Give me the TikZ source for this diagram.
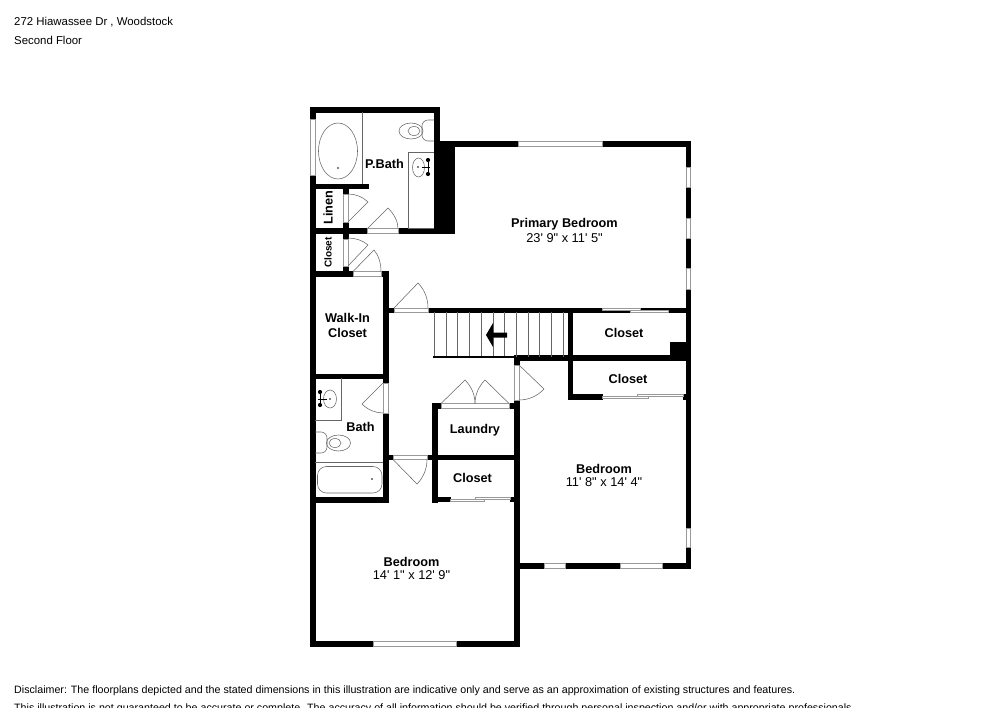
\documentclass[tikz,border=0pt]{standalone}
\usepackage{fontspec}
\usetikzlibrary{calc}
\setmainfont{Liberation Sans}
\newfontfamily\sizefont{Liberation Sans}
\tikzset{
  wall/.style={fill=black,draw=black,line width=0.15pt},
  glass/.style={draw=black!40,line width=0.6pt,fill=white},
  fixture/.style={draw=black!60,line width=0.55pt},
  roomlabel/.style={font=\bfseries\fontsize{12.7}{14.5}\selectfont,inner sep=0pt},
  sizelabel/.style={font=\sizefont\fontsize{12.8}{15}\selectfont,inner sep=0pt},
  pagetext/.style={font=\fontsize{11.4}{13}\selectfont,anchor=west,inner sep=0pt},
  disctext/.style={font=\fontsize{10.68}{13}\selectfont,anchor=west,inner sep=0pt}
}
\newcommand{\doorleaf}[4]{\draw[fixture] (#1) -- (#2) .. controls ($(#2)!0.64!(#3)$) and ($(#4)!0.64!(#3)$) .. (#4);}
\begin{document}
\begin{tikzpicture}[x=1pt,y=-1pt]
\useasboundingbox (0,0) rectangle (1000,707);
\pgfmathsetmacro{\stairtop}{312}
\pgfmathsetmacro{\stairbot}{357}
\node[pagetext] (addr) at (14,22.5) {272 Hiawassee Dr , Woodstock};
\node[pagetext] (floor) at (14,40) {Second Floor};
\node[disctext] (disc) at (14,691) {Disclaimer: The floorplans depicted and the stated dimensions in this illustration are indicative only and serve as an approximation of existing structures and features.};
\node[disctext] (discb) at (14,708.5) {This illustration is not guaranteed to be accurate or complete. The accuracy of all information should be verified through personal inspection and/or with appropriate professionals.};
\fill[wall] (310,107) rectangle (315,646);
\fill[wall] (310,107) rectangle (439,112);
\fill[wall] (434,107) rectangle (439,146);
\fill[wall] (434,141) rectangle (690,146);
\fill[wall] (434,141) rectangle (454,233);
\fill[wall] (686,141) rectangle (690,568);
\fill[wall] (310,228.5) rectangle (454,233);
\fill[wall] (310,184) rectangle (368,188);
\fill[wall] (343,188) rectangle (348,194);
\fill[wall] (343,222) rectangle (348,239);
\fill[wall] (343,266) rectangle (348,272);
\fill[wall] (310,271.5) rectangle (388,276);
\fill[wall] (383,271.5) rectangle (388,383);
\fill[wall] (310,374) rectangle (388,378.5);
\fill[wall] (383,413) rectangle (388,502);
\fill[wall] (310,497) rectangle (388,502);
\fill[wall] (388,308) rectangle (394,312.5);
\fill[wall] (428,308) rectangle (690,312.5);
\fill[wall] (568,312) rectangle (572.5,399);
\fill[wall] (515,355.5) rectangle (690,360);
\fill[wall] (670,342) rectangle (686,356);
\fill[wall] (568,394) rectangle (602,399);
\fill[wall] (683,394) rectangle (686,399);
\fill[wall] (514.5,355.5) rectangle (519,365);
\fill[wall] (514.5,400) rectangle (519,646);
\fill[wall] (432,403) rectangle (441,408);
\fill[wall] (509,403) rectangle (515,408);
\fill[wall] (432,403) rectangle (437,502);
\fill[wall] (388,455) rectangle (393,459.5);
\fill[wall] (427,455) rectangle (519,459.5);
\fill[wall] (432,497) rectangle (450,501.5);
\fill[wall] (510,497) rectangle (515,501.5);
\fill[wall] (310,641) rectangle (519,646);
\fill[wall] (515,563) rectangle (690,568);
\draw[glass] (310.5,119) rectangle (315,175);
\draw[glass] (518,141.5) rectangle (602,146);
\draw[glass] (686,167) rectangle (690,187);
\draw[glass] (686,218) rectangle (690,238);
\draw[glass] (686,268) rectangle (690,289);
\draw[glass] (686,528) rectangle (690,547);
\draw[glass] (544,563.5) rectangle (565,568);
\draw[glass] (620,563.5) rectangle (662,568);
\draw[glass] (373,641.5) rectangle (456,646);
\draw[glass] (367.5,228.5) rectangle (398,233);
\draw[glass] (353,271.5) rectangle (381,276);
\draw[glass] (394,308) rectangle (428,312.5);
\draw[glass] (343,194) rectangle (348,222);
\draw[glass] (343,239) rectangle (348,266);
\draw[glass] (383,383) rectangle (388,413);
\draw[glass] (393,455) rectangle (427,459.5);
\draw[glass] (514.5,365) rectangle (519,400);
\draw[glass] (441,403.5) rectangle (509,408);
\draw[glass] (602,308) rectangle (640,310);
\draw[glass] (630,310) rectangle (668,312.5);
\draw[glass] (637,394) rectangle (683,396);
\draw[glass] (602,396) rectangle (648,398.5);
\draw[glass] (475,497) rectangle (510,499);
\draw[glass] (450,499) rectangle (484,501.5);
\doorleaf{348,222}{368,202}{360,194}{348,194}
\doorleaf{348,266}{368,245}{360,238}{348,238}
\doorleaf{367.5,228.5}{388,208}{398,218}{398,228.5}
\doorleaf{353,271.5}{374,250}{381,258}{381,271.5}
\doorleaf{394,308}{418,283}{428,293}{428,308}
\doorleaf{383,383}{362,404}{371,413}{383,413}
\doorleaf{393,459.5}{417,484}{427,474}{427,459.5}
\doorleaf{519,365}{544,389}{534,400}{519,400}
\doorleaf{441,403.5}{465,380}{475,390}{475,403.5}
\doorleaf{509,403.5}{485,380}{475,390}{475,403.5}
\foreach \tread in {0,...,11}
  \draw[fixture] ({434.3+11.7*\tread},\stairtop) -- ({434.3+11.7*\tread},\stairbot);
\draw[black,line width=1.2pt] (433,\stairbot) -- (515,\stairbot);
\fill[black] (486,335) -- (493,323) -- (493,332.5) -- (507,332.5) -- (507,337.5) -- (493,337.5) -- (493,347) -- cycle;
\draw[fixture] (362,112) -- (362,184);
\draw[fixture] (338,151) ellipse (19.5 and 28);
\fill[black] (338,168) circle (0.9);
\draw[fixture,rounded corners=6pt] (434,120) -- (422,120) -- (422,141) -- (434,141);
\draw[fixture] (411,131) ellipse (12 and 8);
\draw[fixture] (414,131) ellipse (6 and 4.5);
\draw[fixture] (434,228) -- (408,228) -- (408,152) -- (434,152);
\draw[fixture] (418.5,167.5) ellipse (6 and 9.5);
\fill[black] (418,167) circle (0.9);
\draw[black,line width=1pt] (422,167) -- (430,167);
\draw[black,line width=1pt] (428,160) -- (428,174);
\fill[black] (428,160) circle (2.1);
\fill[black] (428,174) circle (2.1);
\draw[fixture] (315,420) -- (341,420) -- (341,378);
\draw[fixture] (330,399) ellipse (6.5 and 9);
\fill[black] (330,399) circle (0.9);
\draw[black,line width=1pt] (318,399) -- (327,399);
\draw[black,line width=1pt] (320,392) -- (320,405);
\fill[black] (320,392) circle (2.1);
\fill[black] (320,405) circle (2.1);
\draw[fixture,rounded corners=6pt] (315,432) -- (327,432) -- (327,453) -- (315,453);
\draw[fixture] (338.5,443) ellipse (12 and 8);
\draw[fixture] (335,443) ellipse (6 and 4.5);
\draw[fixture] (315,462) -- (383,462);
\draw[fixture,rounded corners=9pt] (317.5,466.5) rectangle (382,493);
\fill[black] (372,479) circle (0.9);
\node[roomlabel] (pbath) at (384.5,163.5) {P.Bath};
\node[roomlabel,rotate=90] (linen) at (328,207.5) {Linen};
\node[roomlabel,rotate=90,font=\bfseries\fontsize{10}{12}\selectfont] (closeta) at (328,252.5) {Closet};
\node[roomlabel,align=center] (walkin) at (347.5,325.5) {Walk-In\\Closet};
\node[roomlabel] (primary) at (564.5,224.5) {Primary Bedroom};
\node[sizelabel] (primarysize) at (564.5,238.5) {23' 9" x 11' 5"};
\node[roomlabel] (closetb) at (624,332.5) {Closet};
\node[roomlabel] (closetc) at (628,378.5) {Closet};
\node[roomlabel] (bath) at (360.5,426.5) {Bath};
\node[roomlabel] (laundry) at (475,430) {Laundry};
\node[roomlabel] (closetd) at (472.5,477.5) {Closet};
\node[roomlabel] (bedrooma) at (604,468.5) {Bedroom};
\node[sizelabel] (bedroomasize) at (604,482) {11' 8" x 14' 4"};
\node[roomlabel] (bedroomb) at (411.5,561.5) {Bedroom};
\node[sizelabel] (bedroombsize) at (411.5,575.5) {14' 1" x 12' 9"};
\end{tikzpicture}
\end{document}
